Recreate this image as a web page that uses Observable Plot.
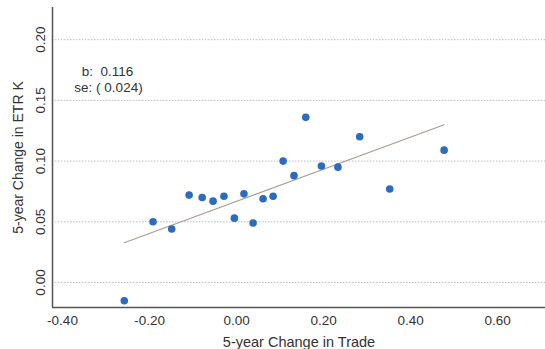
<!DOCTYPE html>
<html>
<head>
<meta charset="utf-8">
<script src="https://cdn.jsdelivr.net/npm/d3@7"></script>
<script src="https://cdn.jsdelivr.net/npm/@observablehq/plot@0.6"></script>
<style>
  html, body { margin: 0; padding: 0; background: #fff; }
  #chart svg { display: block; }
</style>
</head>
<body>
<div id="chart"></div>
<script>
// Data
const tradeChange = [-0.258, -0.192, -0.149, -0.109, -0.079, -0.054, -0.029, -0.005, 0.017, 0.038, 0.061, 0.084, 0.107, 0.132, 0.159, 0.195, 0.233, 0.283, 0.352, 0.477];
const etrChange   = [-0.015, 0.050, 0.044, 0.072, 0.070, 0.067, 0.071, 0.053, 0.073, 0.049, 0.069, 0.071, 0.100, 0.088, 0.136, 0.096, 0.095, 0.120, 0.077, 0.109];
const fitX = [-0.258, 0.477];
const fitY = [0.0327, 0.1299];
const xTicks = [-0.4, -0.2, 0, 0.2, 0.4, 0.6];
const yTicks = [0, 0.05, 0.10, 0.15, 0.20];
const xDomain = [-0.423, 0.710];
const yDomain = [-0.0206, 0.2265];
const annotation = ["b:  0.116", "se: ( 0.024)"];
const xTitle = "5-year Change in Trade";
const yTitle = "5-year Change in ETR K";

const points = tradeChange.map((x, i) => ({x, y: etrChange[i]}));
const fit = fitX.map((x, i) => ({x, y: fitY[i]}));
const fmt = d => d.toFixed(2);
const font = "'Liberation Sans', Arial, Helvetica, sans-serif";

const chart = Plot.plot({
  width: 545,
  height: 349,
  marginLeft: 52,
  marginRight: 0,
  marginTop: 7,
  marginBottom: 42,
  style: {fontFamily: font, background: "#fff", color: "#333"},
  x: {domain: xDomain, axis: null},
  y: {domain: yDomain, axis: null},
  marks: [
    Plot.ruleY(yTicks, {stroke: "#b8c0c8", strokeWidth: 1, strokeDasharray: "1.5,1.5"}),
    Plot.ruleX([xDomain[0]], {stroke: "#555", strokeWidth: 1.5}),
    Plot.ruleY([yDomain[0]], {stroke: "#555", strokeWidth: 1.5}),
    Plot.line(fit, {x: "x", y: "y", stroke: "#a89c94", strokeWidth: 1.1}),
    Plot.dot(points, {x: "x", y: "y", r: 3.8, fill: "#2b6cbf", stroke: "none"}),
    Plot.text(xTicks, {x: d => d, y: () => yDomain[0], text: fmt, dy: 13, fontSize: 13.5, fill: "#333", lineAnchor: "middle"}),
    Plot.text(yTicks, {x: () => xDomain[0], y: d => d, text: fmt, rotate: -90, dx: -12, fontSize: 13.5, fill: "#333", lineAnchor: "middle", textAnchor: "middle"}),
    Plot.text([xTitle], {frameAnchor: "bottom", dy: 35, fontSize: 14.5, fill: "#333", lineAnchor: "middle"}),
    Plot.text([yTitle], {frameAnchor: "left", rotate: -90, dx: -34, fontSize: 14, fill: "#333", lineAnchor: "middle", textAnchor: "middle"}),
    Plot.text([annotation[0]], {frameAnchor: "top-left", dx: 55, dy: 64, fontSize: 13.5, fill: "#333", textAnchor: "middle", lineAnchor: "middle"}),
    Plot.text([annotation[1]], {frameAnchor: "top-left", dx: 56, dy: 80, fontSize: 13.5, fill: "#333", textAnchor: "middle", lineAnchor: "middle"})
  ]
});
document.getElementById("chart").appendChild(chart);
</script>
</body>
</html>
